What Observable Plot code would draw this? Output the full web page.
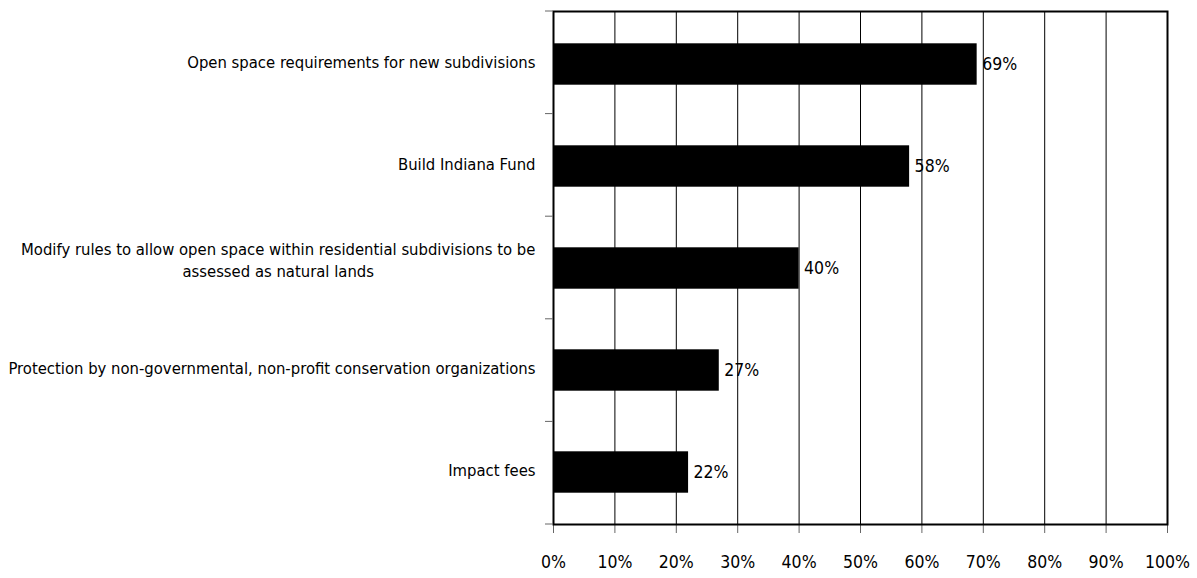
<!DOCTYPE html>
<html><head><meta charset="utf-8">
<script src="https://cdn.jsdelivr.net/npm/d3@7"></script>
<script src="https://cdn.jsdelivr.net/npm/@observablehq/plot@0.6"></script>
<style>
body{margin:0;background:#fff;}
#chart svg{display:block;}
</style></head>
<body><div id="chart"></div>
<script>
const categories = [
  "Open space requirements for new subdivisions",
  "Build Indiana Fund",
  "Modify rules to allow open space within residential subdivisions to be\nassessed as natural lands",
  "Protection by non-governmental, non-profit conservation organizations",
  "Impact fees"
];
const values = [69, 58, 40, 27, 22];
const xTicks = [0,10,20,30,40,50,60,70,80,90,100];

const data = categories.map((c,i)=>({category:c, value:values[i]}));
const FONT = '"DejaVu Sans Condensed","Liberation Sans Narrow",sans-serif';
const FS = 16.5;

const plot = Plot.plot({
  width: 1197, height: 578,
  marginLeft: 553, marginRight: 30, marginTop: 11, marginBottom: 54,
  style: {fontFamily: FONT, fontSize: FS + "px", color: "#000", background: "#fff"},
  x: {domain: [0,100], ticks: xTicks, tickFormat: d => d + "%", label: null},
  y: {domain: categories, padding: 0, label: null},
  marks: [
    Plot.gridX(xTicks, {stroke: "#000", strokeOpacity: 1, strokeWidth: 1}),
    Plot.barX(data, {x: "value", y: "category", fill: "#000", insetTop: 30.3, insetBottom: 30.3}),
    Plot.text(data, {x: "value", y: "category", text: d => d.value + "%", textAnchor: "start", dx: 5, fill: "#000", fontSize: FS + 1}),
    Plot.axisX({ticks: xTicks, tickFormat: d => d + "%", tickSize: 9, tickPadding: 22, stroke: "#666", fontSize: FS + 1, label: null}),
    Plot.axisY({tickSize: 0, tickPadding: 18, fontSize: FS, textAnchor: "end", lineWidth: 100, lineHeight: 1.35, dy: -10, label: null}),
    Plot.frame({stroke: "#000", strokeWidth: 2})
  ]
});
document.getElementById("chart").appendChild(plot);

// boundary ticks on the band scale
const ys = plot.scale("y");
const sel = d3.select(plot);
const yScale = d3.scaleBand().domain(ys.domain).range(ys.range).padding(0);
const bounds = ys.domain.map(c => yScale(c)).concat([yScale(ys.domain[ys.domain.length-1]) + yScale.bandwidth()]);
const xs = plot.scale("x");
const x0 = xs.range[0];
sel.append("g").selectAll("line").data(bounds).join("line")
  .attr("x1", x0 - 8).attr("x2", x0).attr("y1", d => d).attr("y2", d => d)
  .attr("stroke", "#666").attr("stroke-width", 1);

// center multi-line label; single-line labels stay on the bar centre
sel.selectAll("g[aria-label='y-axis tick label'] text").each(function(){
  const t = d3.select(this);
  const tspans = t.selectAll("tspan");
  const tr = t.attr("transform") || "";
  if (tspans.size() > 1) {
    const w = this.getBBox().width;
    t.attr("text-anchor", "middle");
    t.attr("transform", tr + ` translate(${-w/2},0)`);
  } else {
    t.attr("transform", tr + " translate(0,6)");
  }
});
</script>
</body></html>
